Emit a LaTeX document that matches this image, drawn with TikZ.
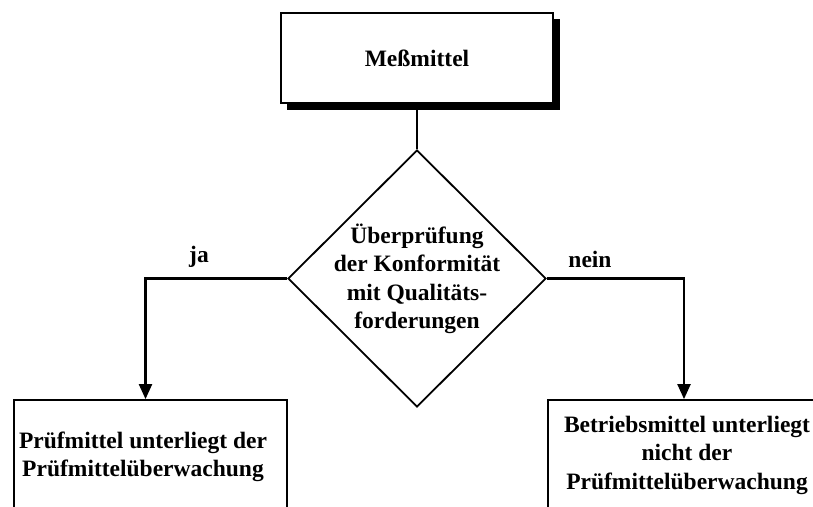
\documentclass[tikz,border=0pt]{standalone}
\usepackage{fontspec}
\setmainfont{Liberation Serif}
\usetikzlibrary{shapes.geometric,arrows.meta}
\tikzset{
  boxnode/.style={draw, line width=1.8pt, fill=white, inner sep=0pt, align=center,
    font=\fontsize{23.5pt}{28.5pt}\selectfont\bfseries},
  txt/.style={inner sep=0pt, align=center, font=\fontsize{23.5pt}{28.5pt}\selectfont\bfseries},
  conn/.style={line width=2.2pt, -{Triangle[length=15pt,width=13pt]}},
  plain/.style={line width=2.2pt},
}
\begin{document}
\begin{tikzpicture}[x=1pt,y=-1pt]
\useasboundingbox (0,0) rectangle (813,506);
\clip (0,0) rectangle (813,506);
% shadow of top box
\fill (287,19) rectangle (560,110);
\node[boxnode, line width=1.5pt, minimum width=272pt, minimum height=90pt] (top) at (417,58) {Meßmittel};
\node[draw, diamond, line width=1.8pt, inner sep=0pt, minimum width=258pt, minimum height=257pt] (dec) at (417,278.5) {};
\node[txt] (dectext) at (417,279) {Überprüfung\\der Konformität\\mit Qualitäts-\\forderungen};
\node[boxnode, minimum width=273pt, minimum height=110pt] (left) at (150.5,455) {};
\node[txt] (lefttext) at (143,457) {Prüfmittel unterliegt der\\Prüfmittelüberwachung};
\node[boxnode, minimum width=278pt, minimum height=110pt] (right) at (687,455) {Betriebsmittel unterliegt\\nicht der\\Prüfmittelüberwachung};
\draw[plain] (top.south) -- (dec.north);
\draw[conn] (dec.west) -| ([xshift=-5pt]left.north);
\draw[conn] (dec.east) -| ([xshift=-3pt]right.north);
\node[txt] (ja) at (199,257) {ja};
\node[txt] (nein) at (590,259) {nein};
\end{tikzpicture}
\end{document}
